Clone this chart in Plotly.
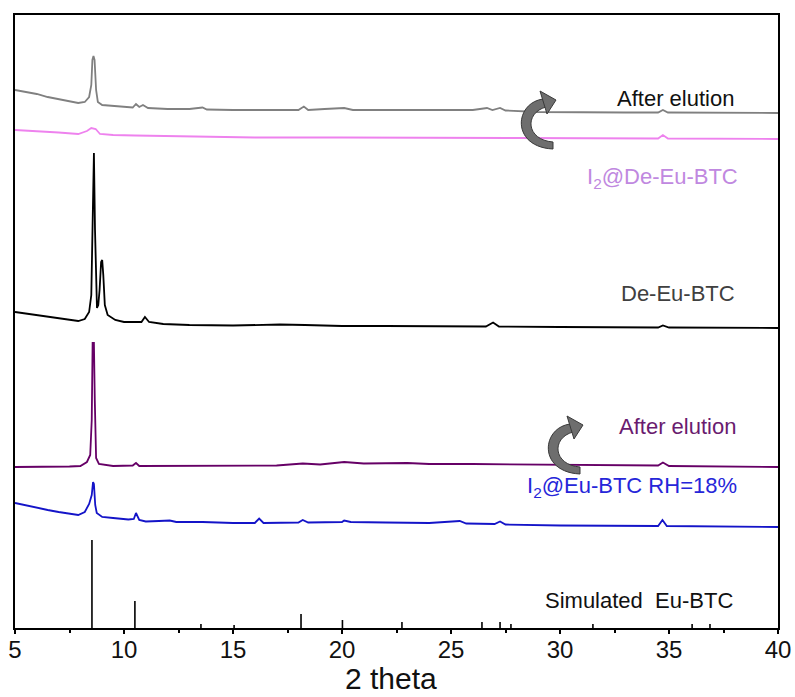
import plotly.graph_objects as go

# ---------------- XRD patterns (2theta, intensity in a.u. above each pattern's baseline) ----------------
after_elution_de_x = [5.0, 5.5, 6.0, 6.5, 7.0, 7.5, 7.9, 8.2, 8.4, 8.5, 8.55, 8.6, 8.65, 8.72, 8.8, 9.0, 9.5,
                      10.0, 10.4, 10.55, 10.7, 10.87, 11.1, 12.0, 13.0, 13.6, 13.8, 15.0, 17.0, 18.0, 18.25,
                      18.45, 19.2, 20.1, 20.5, 22.0, 24.0, 26.0, 26.65, 26.9, 27.25, 27.5, 29.0, 31.0, 33.0,
                      34.5, 34.72, 34.95, 37.0, 40.0]
after_elution_de_y = [23, 21, 19, 16, 14, 12, 10, 11, 16, 28, 53, 57, 53, 23, 11, 8, 7,
                      6, 5.5, 9, 6, 8, 5, 4, 4, 5.5, 3.5, 3, 3, 3, 6.5,
                      3, 4, 5, 3, 3, 2.5, 3, 5, 3, 5, 2.5, 1, 0.5, 0.5,
                      0.5, 3, 0.5, 0, 0]

i2_de_x = [5.0, 6.0, 7.0, 7.9, 8.3, 8.5, 8.7, 8.9, 9.5, 10.5, 12.0, 14.0, 16.0, 20.0, 24.0, 28.0,
           34.5, 34.72, 34.95, 37.0, 40.0]
i2_de_y = [9, 8, 6.5, 5, 8, 11, 10, 5, 4, 3.5, 3, 2, 1.5, 1.5, 1.5, 1,
           0.5, 4, 0.5, 0, 0]

de_x = [5.0, 5.5, 6.0, 6.5, 7.0, 7.5, 7.9, 8.2, 8.4, 8.5, 8.56, 8.62, 8.67, 8.72, 8.76, 8.82, 8.88,
        8.95, 9.0, 9.05, 9.12, 9.25, 9.6, 10.0, 10.8, 10.96, 11.15, 11.8, 13.0, 15.0, 17.15, 18.3,
        20.0, 22.0, 24.0, 26.6, 26.93, 27.2, 30.0, 34.5, 34.72, 35.0, 40.0]
de_y = [16, 14.5, 13, 11, 9.5, 8, 7, 9, 16, 33, 98, 175, 98, 28, 20, 23, 38,
        66, 68, 53, 23, 13, 8, 6, 6, 11, 6, 4, 3, 2.5, 3.5, 3,
        2, 2, 1.5, 1.5, 5.5, 1.5, 1, 0.5, 2.5, 0.5, 0]

after_elution_x = [5.0, 6.0, 7.5, 8.0, 8.3, 8.45, 8.52, 8.56, 8.62, 8.66, 8.72, 8.85, 9.5, 10.4, 10.55,
                   10.7, 12.0, 15.0, 17.0, 18.2, 19.0, 20.1, 21.0, 23.0, 24.0, 26.0, 28.0, 30.0, 34.5,
                   34.72, 35.0, 40.0]
after_elution_y = [0, 0, 0.5, 1, 5, 12, 47, 124, 124, 67, 9, 3, 1, 1.5, 4,
                   1, 1, 1, 1.5, 3.5, 2.5, 5, 3.5, 4, 3, 3, 2.5, 2, 1.5,
                   4.5, 1, 0]

i2_eu_x = [5.0, 5.5, 6.0, 6.5, 7.0, 7.5, 7.9, 8.2, 8.4, 8.52, 8.58, 8.62, 8.68, 8.75, 9.0, 9.5, 10.2,
           10.45, 10.55, 10.7, 11.0, 11.6, 12.1, 12.4, 13.6, 15.0, 16.0, 16.2, 16.4, 18.0, 18.2, 18.45,
           20.0, 20.1, 20.4, 22.0, 24.0, 25.4, 25.7, 27.0, 27.25, 27.5, 30.0, 34.5, 34.7, 34.9, 37.0, 40.0]
i2_eu_y = [24, 21.5, 19, 17, 15, 13.5, 12, 15, 23, 32, 45, 43, 22, 14, 10, 9, 7.5,
           8, 14, 7, 5.5, 6, 6.5, 5, 5, 4, 4, 8.5, 4, 4.5, 7, 4.5,
           5, 6.5, 5, 4.5, 4, 6, 3.5, 3, 5.5, 2.5, 1.5, 1, 7, 1, 0.5, 0]

# Simulated reflections (stick pattern)
sim_x = [8.53, 10.50, 13.53, 15.05, 18.12, 20.02, 22.75, 26.42, 27.25, 27.75, 31.51, 36.06, 36.88]
sim_y = [88, 27, 4, 3, 14, 8, 6, 6, 6, 4, 4, 4, 4]

# Vertical stacking offsets (a.u.)
offsets = {"after_de": 515, "i2_de": 489, "de": 300, "after": 161, "i2_eu": 101, "sim": 0}

x_ticks = [5, 10, 15, 20, 25, 30, 35, 40]

# ---------------- figure ----------------
W, H = 795, 697
Y_RANGE = [0, 613]
X_RANGE = [5, 40]

fig = go.Figure()


def add_pattern(xs, ys, off, color, width=1.8):
    fig.add_trace(go.Scatter(x=xs, y=[v + off for v in ys], mode="lines",
                             line=dict(color=color, width=width), hoverinfo="skip",
                             showlegend=False))


add_pattern(after_elution_de_x, after_elution_de_y, offsets["after_de"], "#808080")
add_pattern(i2_de_x, i2_de_y, offsets["i2_de"], "#EE82EE")
add_pattern(de_x, de_y, offsets["de"], "#000000")
add_pattern(after_elution_x, after_elution_y, offsets["after"], "#660066")
add_pattern(i2_eu_x, i2_eu_y, offsets["i2_eu"], "#1414C8")

# stick pattern built from the simulated reflections
stick_x, stick_y = [], []
for xv, yv in zip(sim_x, sim_y):
    stick_x += [xv, xv, None]
    stick_y += [offsets["sim"], offsets["sim"] + yv, None]
fig.add_trace(go.Scatter(x=stick_x, y=stick_y, mode="lines",
                         line=dict(color="#000000", width=1.6), hoverinfo="skip",
                         showlegend=False))

# ---------------- labels (placed in data coordinates) ----------------
FONT = "Liberation Sans, Arial, sans-serif"
labels = [
    ("After elution", 35.32, 530, "#111111"),
    ("I<sub>2</sub>@De-Eu-BTC", 34.72, 450, "#C088E0"),
    ("De-Eu-BTC", 35.41, 335, "#404040"),
    ("After elution", 35.37, 202, "#6A1B6F"),
    ("I<sub>2</sub>@Eu-BTC RH=18%", 33.30, 141, "#2626D9"),
    ("Simulated\u00a0 Eu-BTC", 33.62, 28, "#111111"),
]
for text, xc, yc, col in labels:
    fig.add_annotation(text=text, x=xc, y=yc, xref="x", yref="y",
                       xanchor="center", yanchor="middle", showarrow=False,
                       font=dict(family=FONT, size=22, color=col))

fig.add_annotation(text="2 theta", x=(22.25 - X_RANGE[0]) / (X_RANGE[1] - X_RANGE[0]),
                   y=-50 / Y_RANGE[1], xref="paper", yref="paper",
                   xanchor="center", yanchor="middle", showarrow=False,
                   font=dict(family=FONT, size=30, color="#111111"))


# ---------------- curved arrows ----------------
def to_xy(p):
    # sketch coordinates (pixel grid of the plot frame) -> data coordinates
    return 5 + (p[0] - 15) / 21.8, 628 - p[1]


def path_from(cmds):
    out = []
    for c in cmds:
        op, pts = c[0], c[1:]
        out.append(op + " " + " ".join("%.4f,%.3f" % to_xy(p) for p in pts))
    return " ".join(out) + " Z"


def curved_arrow(dx, dy):
    band = [
        ("M", (543 + dx, 99 + dy)),
        ("C", (514 + dx, 103 + dy), (511 + dx, 147 + dy), (553 + dx, 149 + dy)),
        ("L", (553 + dx, 142 + dy)),
        ("C", (526 + dx, 140 + dy), (524 + dx, 113 + dy), (546 + dx, 107 + dy)),
    ]
    head = [
        ("M", (556 + dx, 100 + dy)),
        ("L", (540 + dx, 91 + dy)),
        ("L", (547 + dx, 114 + dy)),
    ]
    for p in (band, head):
        fig.add_shape(type="path", xref="x", yref="y", path=path_from(p),
                      fillcolor="#6E6E6E", line=dict(color="#3A3A3A", width=1))


curved_arrow(0, 0)
curved_arrow(27, 325)

fig.update_layout(
    width=W, height=H,
    margin=dict(l=15, r=17, t=15, b=69, autoexpand=False),
    paper_bgcolor="white", plot_bgcolor="white",
    showlegend=False,
    xaxis=dict(range=X_RANGE, tickvals=x_ticks, ticktext=[str(v) for v in x_ticks],
               ticks="outside", ticklen=4, tickwidth=1.5, tickcolor="#000",
               minor=dict(dtick=2.5, tick0=5, ticks="outside", ticklen=3, tickwidth=1.5, tickcolor="#000"),
               showline=True, linewidth=2, linecolor="#000", mirror=True,
               showgrid=False, zeroline=False, ticklabelstandoff=-5,
               automargin=False, ticklabeloverflow="allow",
               tickfont=dict(family=FONT, size=24, color="#111111")),
    yaxis=dict(range=Y_RANGE, showticklabels=False, ticks="", showgrid=False, zeroline=False,
               showline=True, linewidth=2, linecolor="#000", mirror=True, automargin=False),
)

fig.write_html("out.html")
